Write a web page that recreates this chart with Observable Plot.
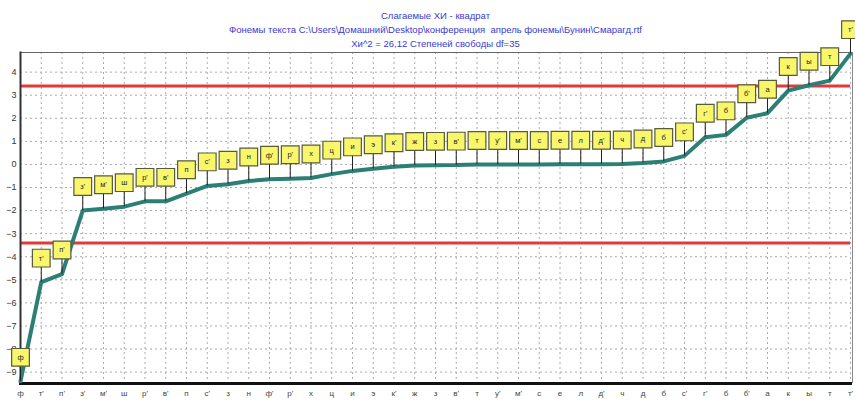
<!DOCTYPE html>
<html><head><meta charset="utf-8">
<script src="https://cdn.jsdelivr.net/npm/d3@7"></script>
<script src="https://cdn.jsdelivr.net/npm/@observablehq/plot@0.6"></script>
<style>body{margin:0;background:#fff;font-family:"Liberation Sans",Arial,sans-serif;}</style>
</head><body><div id="chart"></div>
<script>
const phonemes = ["ф","т'","п'","з'","м'","ш","р'","в'","п","с'","з","н","ф'","р'","х","ц","и","э","к'","ж","з","в'","т","у'","м'","с","е","л","д'","ч","д","б","с'","г'","б","б'","а","к","ы","т","т'"];
const values = [-9.4,-5.1,-4.75,-2.0,-1.92,-1.83,-1.6,-1.6,-1.27,-0.93,-0.86,-0.72,-0.64,-0.62,-0.59,-0.42,-0.28,-0.19,-0.1,-0.05,-0.04,-0.03,0.0,0.0,0.0,0.0,0.01,0.01,0.01,0.02,0.06,0.13,0.37,1.18,1.28,2.02,2.22,3.2,3.43,3.63,4.8];
const critical = [3.4,-3.4];
const yTicks = [-9,-8,-7,-6,-5,-4,-3,-2,-1,0,1,2,3,4];
const titleLines = ["Слагаемые ХИ - квадрат","Фонемы текста C:\\Users\\Домашний\\Desktop\\конференция  апрель фонемы\\Бунин\\Смарагд.rtf","Хи^2 = 26,12 Степеней свободы df=35"];

const data = phonemes.map((p,i)=>({i, p, v: values[i]}));
const idx = data.map(d=>d.i);
const blue = "#3a3ad0";

const chart = Plot.plot({
  width: 855, height: 401,
  marginLeft: 20, marginRight: 5, marginTop: 52, marginBottom: 19,
  style: {fontFamily: "Liberation Sans, Arial, sans-serif", fontSize: "9px", background: "#fff", overflow: "visible"},
  x: {type: "linear", domain: [0, 40], axis: null},
  y: {domain: [-9.45, 4.85], axis: null},
  marks: [
    Plot.ruleX(idx, {x: d=>d, stroke: "#aaa", strokeWidth: 1, strokeDasharray: "2,3"}),
    Plot.ruleY(yTicks, {y: d=>d, stroke: "#aaa", strokeWidth: 1, strokeDasharray: "2,3"}),
    Plot.ruleY(critical, {y: d=>d, stroke: "#e03a3a", strokeWidth: 3}),
    Plot.axisY(yTicks, {tickSize: 0, tickPadding: 4, fill: "#333", fontSize: 9, label: null}),
    Plot.axisX(idx, {tickSize: 0, tickPadding: 8, tickFormat: i=>phonemes[i], fill: "#444", fontSize: 8, label: null}),
    Plot.frame({anchor: "top", stroke: "#666", strokeWidth: 1}),
    Plot.frame({anchor: "right", stroke: "#888", strokeWidth: 1, dx: 2}),
    Plot.frame({anchor: "left", stroke: "#333", strokeWidth: 2}),
    Plot.frame({anchor: "bottom", stroke: "#111", strokeWidth: 3, dy: 1}),
    Plot.line(data, {x: "i", y: "v", stroke: "#2c7f74", strokeWidth: 4, strokeLinejoin: "round"}),
    Plot.ruleX(data, {x: "i", y1: "v", y2: d=>d.v + 0.7, stroke: "#222", strokeWidth: 1}),
    Plot.dot(data, {x: "i", y: "v", dy: -24, symbol: "square", r: 10, fill: "#f8f66a", stroke: "#5a5a3a", strokeWidth: 1.2}),
    Plot.text(data, {x: "i", y: "v", dy: -24, text: "p", fontSize: 7.5, fill: "#222"}),
    Plot.text([titleLines[0]], {frameAnchor: "top", dy: -40, text: d=>d, fill: blue, fontSize: 9.5}),
    Plot.text([titleLines[1]], {frameAnchor: "top", dy: -26, text: d=>d, fill: blue, fontSize: 9.5}),
    Plot.text([titleLines[2]], {frameAnchor: "top", dy: -12, text: d=>d, fill: blue, fontSize: 9.5})
  ]
});
document.getElementById("chart").appendChild(chart);
</script></body></html>
